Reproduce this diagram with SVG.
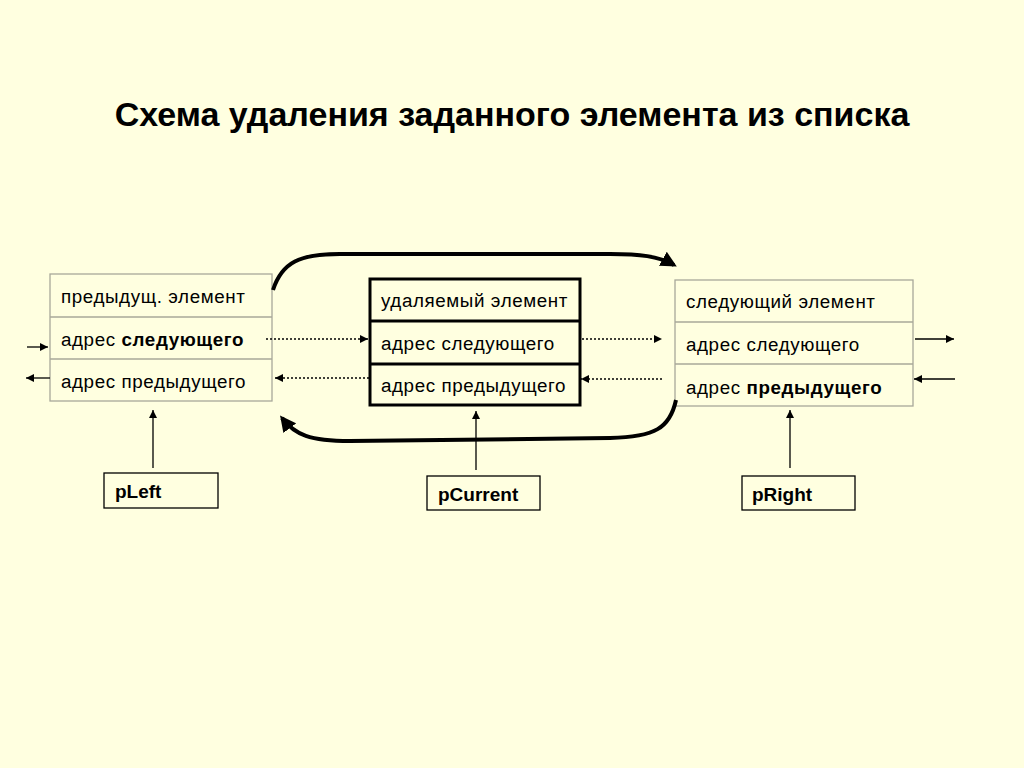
<svg xmlns="http://www.w3.org/2000/svg" width="1024" height="768" viewBox="0 0 1024 768">
<defs>
<style>
text{font-family:"Liberation Sans",Arial,sans-serif;fill:#000}
.t{font-size:18.8px;letter-spacing:0.6px}
.b{font-weight:bold}
.title{font-size:34px;font-weight:bold}
.ptr{font-size:19px;font-weight:bold}
.cell{fill:none;stroke:#a8a89a;stroke-width:1.3}
.cellk{fill:none;stroke:#000;stroke-width:3}
.pbox{fill:none;stroke:#000;stroke-width:1.3}
.ln{stroke:#000;stroke-width:1.3;fill:none}
.dot{stroke:#000;stroke-width:1.3;fill:none;stroke-dasharray:2 2}
.thick{stroke:#000;stroke-width:4;fill:none}
</style>
<marker id="ah" viewBox="0 0 10 10" refX="10" refY="5" markerWidth="9" markerHeight="8" markerUnits="userSpaceOnUse" orient="auto"><path d="M0,0 L10,5 L0,10 z" fill="#000"/></marker>
<marker id="ahb" viewBox="0 0 10 10" refX="8" refY="5" markerWidth="4" markerHeight="4" orient="auto"><path d="M0,0 L10,5 L0,10 z" fill="#000"/></marker>
</defs>
<rect width="1024" height="768" fill="#FFFFE0"/>
<text class="title" x="512" y="126" text-anchor="middle">Схема удаления заданного элемента из списка</text>

<g id="left">
<rect class="cell" x="50" y="274" width="222" height="127"/>
<line class="cell" x1="50" y1="317" x2="272" y2="317"/>
<line class="cell" x1="50" y1="359" x2="272" y2="359"/>
<text class="t" x="61" y="303">предыдущ. элемент</text>
<text class="t" x="61" y="346">адрес <tspan class="b">следующего</tspan></text>
<text class="t" x="61" y="388">адрес предыдущего</text>
</g>

<g id="current">
<rect class="cellk" x="370" y="279" width="210" height="126"/>
<line class="cellk" x1="370" y1="321" x2="580" y2="321"/>
<line class="cellk" x1="370" y1="364" x2="580" y2="364"/>
<text class="t" x="381" y="307">удаляемый элемент</text>
<text class="t" x="381" y="350">адрес следующего</text>
<text class="t" x="381" y="392">адрес предыдущего</text>
</g>

<g id="right">
<rect class="cell" x="675" y="280" width="238" height="126"/>
<line class="cell" x1="675" y1="322" x2="913" y2="322"/>
<line class="cell" x1="675" y1="364" x2="913" y2="364"/>
<text class="t" x="686" y="308">следующий элемент</text>
<text class="t" x="686" y="351">адрес следующего</text>
<text class="t" x="686" y="394">адрес <tspan class="b">предыдущего</tspan></text>
</g>

<g id="pLeft">
<rect class="pbox" x="104" y="473" width="114" height="35"/>
<text class="ptr" x="115" y="498">pLeft</text>
</g>
<g id="pCurrent">
<rect class="pbox" x="427" y="476" width="113" height="34"/>
<text class="ptr" x="438" y="501">pCurrent</text>
</g>
<g id="pRight">
<rect class="pbox" x="742" y="476" width="113" height="34"/>
<text class="ptr" x="752" y="501">pRight</text>
</g>

<g id="connectors">
<line class="ln" x1="27" y1="347" x2="48" y2="347" marker-end="url(#ah)"/>
<line class="ln" x1="50" y1="378" x2="26" y2="378" marker-end="url(#ah)"/>
<line class="dot" x1="266" y1="339" x2="368" y2="339" marker-end="url(#ah)"/>
<line class="dot" x1="369" y1="378" x2="275" y2="378" marker-end="url(#ah)"/>
<line class="dot" x1="582" y1="339" x2="662" y2="339" marker-end="url(#ah)"/>
<line class="dot" x1="662" y1="379" x2="581" y2="379" marker-end="url(#ah)"/>
<line class="ln" x1="915" y1="339" x2="954" y2="339" marker-end="url(#ah)"/>
<line class="ln" x1="955" y1="379" x2="914" y2="379" marker-end="url(#ah)"/>
<line class="ln" x1="153" y1="468" x2="153" y2="410" marker-end="url(#ah)"/>
<line class="ln" x1="476" y1="470" x2="476" y2="411" marker-end="url(#ah)"/>
<line class="ln" x1="790" y1="468" x2="790" y2="410" marker-end="url(#ah)"/>
<path class="thick" d="M273,290 C282,262 300,254 340,254 L610,254 C640,254 658,256 674,265" marker-end="url(#ahb)"/>
<path class="thick" d="M676,400 C670,428 655,437 610,438 L350,441 C310,441 295,435 282,418" marker-end="url(#ahb)"/>
</g>
</svg>
